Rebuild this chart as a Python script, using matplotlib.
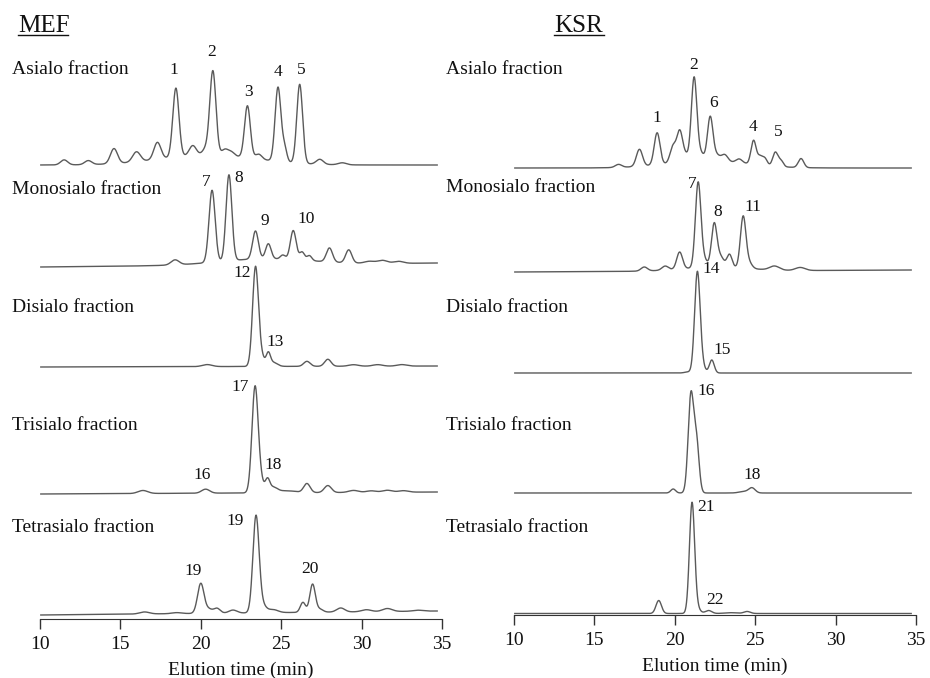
import numpy as np
import matplotlib.pyplot as plt
from matplotlib.lines import Line2D

plt.rcParams['font.family'] = ['Liberation Serif', 'DejaVu Serif']

# ---------------------------------------------------------
# peak tables: (time min, height px, width min)
# ---------------------------------------------------------
fractions = ["Asialo fraction", "Monosialo fraction", "Disialo fraction",
             "Trisialo fraction", "Tetrasialo fraction"]

mef_asialo = [(11.5, 5, 0.22), (13.0, 4, 0.22), (14.6, 15, 0.22), (16.0, 10, 0.24),
              (17.3, 17, 0.22), (18.45, 69, 0.19), (19.5, 10, 0.22), (20.3, 6, 0.2),
              (20.75, 84, 0.19), (21.5, 6, 0.2), (21.9, 4, 0.2), (22.9, 52, 0.18),
              (23.6, 5, 0.2), (24.8, 74, 0.18), (25.2, 14, 0.15), (26.15, 79, 0.18),
              (27.4, 5, 0.22), (28.8, 2, 0.25), (20.5, 10, 3.0)]
mef_mono = [(18.4, 5, 0.25), (20.7, 72, 0.19), (21.75, 86, 0.18), (23.4, 28, 0.18),
            (24.2, 15, 0.17), (25.1, 4, 0.15), (25.75, 29, 0.18), (26.3, 8, 0.15),
            (26.75, 5, 0.15), (28.0, 14, 0.19), (29.2, 13, 0.19), (30.5, 2, 0.3),
            (31.3, 3, 0.3), (32.3, 2, 0.3), (24.0, 6, 2.8)]
mef_di = [(20.4, 2, 0.3), (23.4, 98, 0.18), (23.75, 10, 0.2), (24.2, 12, 0.13),
          (24.5, 4, 0.25), (26.6, 5, 0.2), (27.9, 7, 0.2), (29.5, 1.5, 0.3),
          (31.0, 1.5, 0.3), (32.5, 1.5, 0.3)]
mef_tri = [(16.4, 3, 0.3), (20.3, 4, 0.25), (23.37, 104, 0.19), (23.7, 12, 0.2),
           (24.15, 12, 0.14), (24.5, 5, 0.25), (25.3, 2, 0.6), (26.6, 9, 0.2),
           (27.9, 7, 0.22), (29.5, 2, 0.3), (30.6, 1.5, 0.3), (31.6, 2, 0.3),
           (32.6, 1.5, 0.3)]
mef_tetra = [(16.5, 2, 0.3), (18.5, 1, 0.3), (20.0, 30, 0.2), (20.5, 4, 0.2),
             (21.0, 5, 0.2), (22.0, 3, 0.25), (23.43, 95, 0.19), (23.8, 8, 0.25),
             (24.5, 3, 0.3), (26.35, 10, 0.16), (26.95, 28, 0.17), (27.4, 3, 0.2),
             (28.7, 4, 0.25), (30.3, 2, 0.3), (31.6, 3, 0.3), (33.5, 1, 0.3)]

ksr_asialo = [(16.5, 3, 0.2), (17.8, 17, 0.19), (18.9, 32, 0.18), (19.9, 17, 0.19),
              (20.3, 27, 0.17), (20.6, 8, 0.25), (21.2, 83, 0.17), (21.6, 8, 0.2),
              (22.2, 44, 0.17), (22.6, 6, 0.2), (23.1, 7, 0.2), (24.0, 4, 0.2),
              (24.9, 24, 0.16), (25.3, 8, 0.15), (25.6, 7, 0.15), (26.25, 14, 0.16),
              (26.6, 6, 0.15), (27.85, 9, 0.17), (22.0, 7, 2.5)]
ksr_mono = [(18.1, 4, 0.2), (19.4, 4, 0.2), (20.3, 17, 0.18), (21.45, 84, 0.17),
            (21.8, 8, 0.2), (22.45, 43, 0.17), (22.85, 10, 0.2), (23.4, 13, 0.16),
            (24.25, 51, 0.17), (24.6, 6, 0.2), (26.2, 4, 0.3), (27.8, 3, 0.3),
            (22.5, 4, 2.0)]
ksr_di = [(20.8, 1, 0.2), (21.4, 98, 0.17), (21.65, 8, 0.2), (22.3, 13, 0.15)]
ksr_tri = [(19.9, 4, 0.15), (21.0, 97, 0.17), (21.35, 50, 0.16), (24.3, 1.5, 0.3),
           (24.8, 5, 0.2)]
ksr_tetra = [(19.0, 13, 0.17), (21.07, 109, 0.16), (21.35, 6, 0.2), (22.1, 3, 0.2),
             (23.5, 0.8, 0.4), (24.5, 2, 0.2)]

mef_traces = [mef_asialo, mef_mono, mef_di, mef_tri, mef_tetra]
ksr_traces = [ksr_asialo, ksr_mono, ksr_di, ksr_tri, ksr_tetra]

# peak numbers: (text, time, height)
mef_labels = [("1", 18.33, 549), ("2", 20.70, 567), ("3", 22.94, 527), ("4", 24.80, 547),
              ("5", 26.23, 549), ("7", 20.32, 437), ("8", 22.38, 441), ("9", 23.99, 398),
              ("10", 26.54, 400), ("12", 22.56, 346), ("13", 24.61, 277), ("17", 22.44, 232),
              ("18", 24.49, 154), ("16", 20.07, 144), ("19", 19.51, 48), ("19", 22.13, 98),
              ("20", 26.79, 50)]
ksr_labels = [("1", 18.89, 497), ("2", 21.19, 550), ("6", 22.44, 512), ("4", 24.86, 488),
              ("5", 26.42, 483), ("7", 21.07, 431), ("8", 22.69, 403), ("11", 24.86, 408),
              ("14", 22.25, 346), ("15", 22.94, 265), ("16", 21.94, 224), ("18", 24.80, 140),
              ("21", 21.94, 108), ("22", 22.50, 15)]

# baseline levels (start, end) above the time axis, in pixels
mef_base = [(454, 454), (352, 356), (252, 253), (125, 127), (4, 8)]
ksr_base = [(447, 447), (343, 345), (242, 242), (122, 122), (1.5, 1.5)]

# label rows (pixel y of fraction names)
mef_name_y = [70, 189, 307, 425, 527]
ksr_name_y = [70, 188, 307, 425, 527]

W, H = 930, 678
fig = plt.figure(figsize=(W / 100, H / 100), dpi=100)
line_col = "#5a5a5a"
text_col = "#111111"


def trace(peaks, t):
    y = np.zeros_like(t)
    for rt, h, w in peaks:
        y += h * np.exp(-0.5 * ((t - rt) / w) ** 2)
    return y


def panel(x0, x1, y_axis, traces, bases, labels, name_x, name_y, title, title_x):
    ax = fig.add_axes([x0 / W, 1 - y_axis / H, (x1 - x0) / W, (y_axis - 40) / H])
    ax.set_xlim(10, 35)
    ax.set_ylim(0, y_axis - 40)
    t = np.linspace(10.05, 34.7, 3000)
    for peaks, (b0, b1) in zip(traces, bases):
        base = b0 + (b1 - b0) * (t - t[0]) / (t[-1] - t[0])
        ax.plot(t, base + trace(peaks, t), color=line_col, lw=1.0)
    for txt, tt, hh in labels:
        ax.text(tt, hh, txt, ha="center", va="center", fontsize=12.5, color=text_col)
    for s in ["top", "left", "right"]:
        ax.spines[s].set_visible(False)
    ax.spines["bottom"].set_color("#333333")
    ax.set_yticks([])
    ax.set_xticks([10, 15, 20, 25, 30, 35])
    ax.tick_params(axis="x", direction="out", length=7, width=1, color="#333333",
                   labelsize=14, labelcolor=text_col, pad=5.5)
    ax.set_xlabel("Elution time (min)", fontsize=14, color=text_col, labelpad=6)
    for name, yy in zip(fractions, name_y):
        fig.text(name_x / W, 1 - yy / H, name, ha="left", va="center",
                 fontsize=14, color=text_col)
    fig.text(title_x / W, 1 - 32 / H, title, ha="left", va="baseline",
             fontsize=18, color=text_col)
    fig.add_artist(Line2D([title_x / W, (title_x + 50) / W], [1 - 34.5 / H, 1 - 34.5 / H],
                          color=text_col, lw=1))
    return ax


panel(40, 442, 619, mef_traces, mef_base, mef_labels, 12, mef_name_y, "MEF", 18)
panel(514, 916, 615, ksr_traces, ksr_base, ksr_labels, 446, ksr_name_y, "KSR", 554)

fig.savefig("out.png", dpi=100, facecolor="white")
